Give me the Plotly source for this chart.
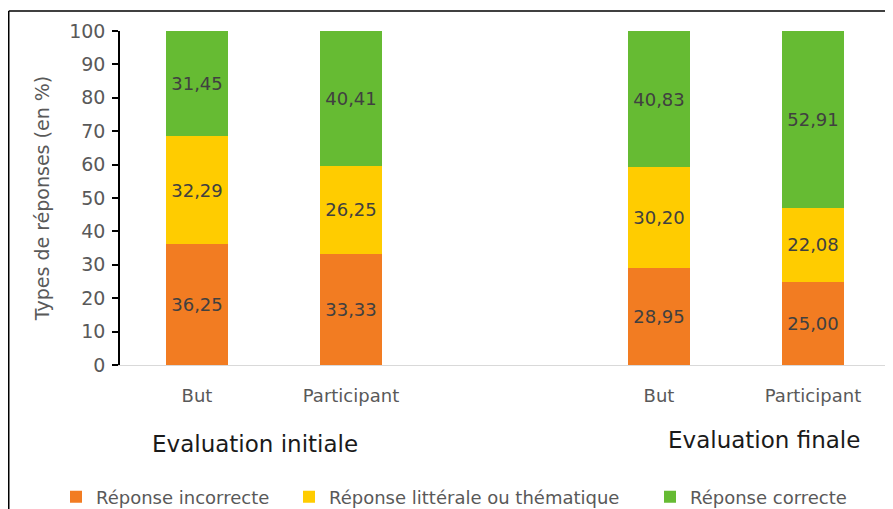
import plotly.graph_objects as go

# ---- data ----
categories = ["But", "Participant", "But", "Participant"]
groups = ["Evaluation initiale", "Evaluation finale"]
x_slots = [0, 1, 3, 4]  # empty slot between the two evaluations
incorrecte = [36.25, 33.33, 28.95, 25.00]
litterale = [32.29, 26.25, 30.20, 22.08]
correcte = [31.45, 40.41, 40.83, 52.91]
series_names = ["Réponse incorrecte", "Réponse littérale ou thématique", "Réponse correcte"]
series_colors = ["#F27C22", "#FFCC00", "#66BB33"]
y_ticks = [0, 10, 20, 30, 40, 50, 60, 70, 80, 90, 100]

FONT = "DejaVu Sans"

def fr(v):
    return f"{v:.2f}".replace(".", ",")

# page body has an 8px margin: figure is sized to fill the rest of the window
W, H = 885, 501
L, R, T, B = 112, 3, 23, 144
pw, ph = W - L - R, H - T - B

def px2paper_x(sx):  # screen x -> paper
    return (sx - 8 - L) / pw

def px2paper_y(sy):  # screen y -> paper
    return (H - B - (sy - 8)) / ph

legend_ids = ["legend", "legend2", "legend3"]
legend_x = [56, 289, 650]

fig = go.Figure()
for name, vals, col, lid in zip(series_names, [incorrecte, litterale, correcte], series_colors, legend_ids):
    fig.add_trace(go.Bar(
        x=x_slots, y=vals, name=name,
        marker=dict(color=col, line=dict(width=0)),
        width=0.4,
        text=[fr(v) for v in vals],
        textposition="inside", insidetextanchor="middle",
        textfont=dict(family=FONT, size=18, color="#404040"),
        constraintext="none",
        hoverinfo="skip",
        legend=lid,
    ))

legend_common = dict(
    orientation="h", yanchor="middle", xanchor="left",
    font=dict(family=FONT, size=18, color="#595959"),
    bgcolor="rgba(0,0,0,0)", borderwidth=0,
)

fig.update_layout(
    barmode="stack",
    width=W, height=H,
    margin=dict(l=L, r=R, t=T, b=B, autoexpand=False),
    paper_bgcolor="white", plot_bgcolor="white",
    showlegend=True,
    legend=dict(x=px2paper_x(legend_x[0]), y=px2paper_y(497), **legend_common),
    legend2=dict(x=px2paper_x(legend_x[1]), y=px2paper_y(497), **legend_common),
    legend3=dict(x=px2paper_x(legend_x[2]), y=px2paper_y(497), **legend_common),
    xaxis=dict(
        range=[-0.5, 4.5],
        tickmode="array", tickvals=x_slots, ticktext=categories,
        showline=True, linecolor="#D9D9D9", linewidth=1,
        ticks="", showgrid=False, zeroline=False,
        tickfont=dict(family=FONT, size=18, color="#595959"),
        ticklabelstandoff=14,
    ),
    yaxis=dict(
        range=[0, 100],
        tickmode="array", tickvals=y_ticks,
        showline=True, linecolor="#000000", linewidth=1.5,
        ticks="outside", ticklen=6, tickcolor="#000000", tickwidth=1.5,
        showgrid=False, zeroline=False,
        ticklabelstandoff=3,
        tickfont=dict(family=FONT, size=19, color="#595959"),
        title=dict(text="Types de réponses (en %)", standoff=15,
                   font=dict(family=FONT, size=19, color="#595959")),
    ),
)

fig.add_annotation(x=px2paper_x(255), y=px2paper_y(444), xref="paper", yref="paper",
                   xanchor="center", yanchor="middle",
                   text=groups[0], showarrow=False,
                   font=dict(family=FONT, size=23, color="#1A1A1A"))
fig.add_annotation(x=px2paper_x(764), y=px2paper_y(440), xref="paper", yref="paper",
                   xanchor="center", yanchor="middle",
                   text=groups[1], showarrow=False,
                   font=dict(family=FONT, size=23, color="#1A1A1A"))

# outer frame (top and left edges visible)
fig.add_shape(type="line", xref="paper", yref="paper",
              x0=px2paper_x(8.75), x1=px2paper_x(893), y0=px2paper_y(11), y1=px2paper_y(11),
              line=dict(color="#000000", width=1.5))
fig.add_shape(type="line", xref="paper", yref="paper",
              x0=px2paper_x(8.75), x1=px2paper_x(8.75), y0=px2paper_y(11), y1=px2paper_y(509),
              line=dict(color="#000000", width=1.5))

fig.write_html("out.html")
